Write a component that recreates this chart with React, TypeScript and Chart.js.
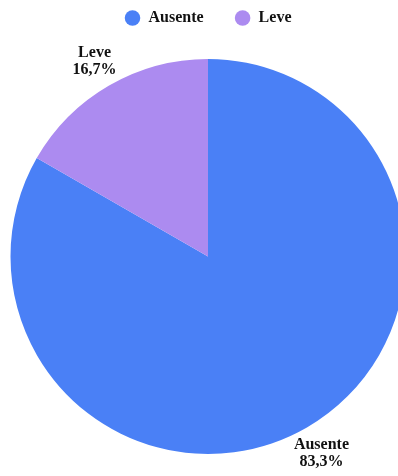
import React, { useEffect, useRef } from "react";
import { Chart, registerables } from "chart.js";

Chart.register(...registerables);

const categories = ["Ausente", "Leve"];
const values = [83.3, 16.7];
const colors = ["#4A80F6", "#AC8BF0"];

const FONT = "'Liberation Serif', 'DejaVu Serif', serif";

const legendSpacer = {
  id: "legendSpacer",
  beforeInit(chart: any) {
    const fit = chart.legend.fit;
    chart.legend.fit = function () {
      fit.call(this);
      this.height += 23;
    };
  },
};

const outerLabels = {
  id: "outerLabels",
  afterDatasetsDraw(chart: any) {
    const ctx = chart.ctx;
    const meta = chart.getDatasetMeta(0);
    const ds = chart.data.datasets[0].data as number[];
    const total = ds.reduce((a, b) => a + b, 0);
    ctx.save();
    ctx.font = `bold 16px ${FONT}`;
    ctx.fillStyle = "#111";
    ctx.textAlign = "center";
    ctx.textBaseline = "middle";
    meta.data.forEach((arc: any, i: number) => {
      const p = arc.getProps(["x", "y", "startAngle", "endAngle", "outerRadius"], true);
      const mid = (p.startAngle + p.endAngle) / 2;
      const r = p.outerRadius + 29;
      const cx = p.x + Math.cos(mid) * r;
      const cy = p.y + Math.sin(mid) * r;
      const pct = ((ds[i] / total) * 100).toFixed(1).replace(".", ",") + "%";
      ctx.fillText(chart.data.labels[i], cx, cy - 8);
      ctx.fillText(pct, cx, cy + 9);
    });
    ctx.restore();
  },
};

export default function App() {
  const ref = useRef<HTMLCanvasElement>(null);
  useEffect(() => {
    const chart = new Chart(ref.current!, {
      type: "pie",
      data: {
        labels: categories,
        datasets: [
          {
            data: values,
            backgroundColor: colors,
            borderWidth: 0,
          },
        ],
      },
      options: {
        animation: false,
        responsive: true,
        maintainAspectRatio: false,
        layout: { padding: { top: -21, bottom: 22, left: 0, right: 0 } },
        plugins: {
          legend: {
            position: "top",
            labels: {
              usePointStyle: true,
              pointStyle: "circle",
              boxWidth: 16,
              boxHeight: 11,
              padding: 31,
              color: "#111",
              font: { family: FONT, size: 16, weight: "bold" },
            },
          },
          tooltip: { enabled: false },
        },
      },
      plugins: [legendSpacer, outerLabels],
    });
    return () => chart.destroy();
  }, []);
  return (
    <div style={{ position: "fixed", left: 0, top: 0, width: 398, height: 476, overflow: "hidden" }}>
      <div style={{ position: "absolute", left: 8, top: 0, width: 400, height: 476 }}>
        <canvas ref={ref} />
      </div>
    </div>
  );
}
